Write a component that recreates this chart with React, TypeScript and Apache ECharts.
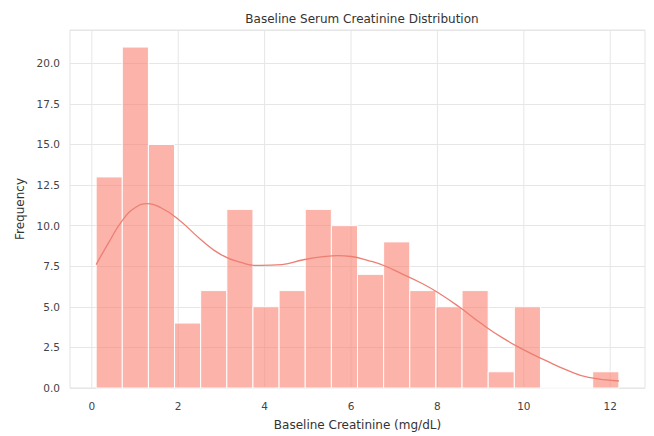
import React, { useEffect, useRef } from "react";
import * as echarts from "echarts";

const binEdges = [0.1, 0.705, 1.31, 1.915, 2.52, 3.125, 3.73, 4.335, 4.94, 5.545, 6.15, 6.755, 7.36, 7.965, 8.57, 9.175, 9.78, 10.385, 10.99, 11.595, 12.2];
const counts = [13, 21, 15, 4, 6, 11, 5, 6, 11, 10, 7, 9, 6, 5, 6, 1, 5, 0, 0, 1];
const kdeX = [0.1, 0.4, 0.7, 1.0, 1.3, 1.6, 2.0, 2.5, 3.0, 3.5, 3.9, 4.4, 4.9, 5.4, 5.7, 6.0, 6.4, 6.8, 7.2, 7.6, 8.0, 8.5, 9.0, 9.5, 10.0, 10.5, 11.0, 11.5, 12.2];
const kdeY = [7.6, 9.0, 10.3, 11.1, 11.35, 11.1, 10.4, 9.2, 8.2, 7.7, 7.55, 7.6, 7.9, 8.1, 8.15, 8.1, 7.85, 7.5, 7.0, 6.5, 5.9, 5.0, 4.0, 3.1, 2.35, 1.7, 1.1, 0.65, 0.43];
const xTicks = [0, 2, 4, 6, 8, 10, 12];
const X_MIN = -0.505;
const X_MAX = 12.805;
const Y_MAX = 22.05;

const FONT = "DejaVu Sans";

export default function App() {
  const ref = useRef<HTMLDivElement>(null);
  useEffect(() => {
    if (!ref.current) return;
    const chart = echarts.init(ref.current, null, { renderer: "svg" });
    const barData = counts.map((c, i) => [binEdges[i], binEdges[i + 1], c]);
    const kdeData = kdeX.map((x, i) => [x, kdeY[i]]);
    chart.setOption({
      animation: false,
      backgroundColor: "#ffffff",
      title: {
        text: "Baseline Serum Creatinine Distribution",
        left: 357,
        textAlign: "center",
        top: 8,
        textStyle: { fontFamily: FONT, fontSize: 12, fontWeight: "normal", color: "#333333" },
      },
      grid: {
        left: 70,
        right: 9,
        top: 30,
        bottom: 46,
        show: true,
        borderColor: "#e3e3e3",
        borderWidth: 1,
        backgroundColor: "#ffffff",
      },
      xAxis: {
        type: "value",
        min: X_MIN,
        max: X_MAX,
        name: "Baseline Creatinine (mg/dL)",
        nameLocation: "middle",
        nameGap: 31,
        nameTextStyle: { fontFamily: FONT, fontSize: 12, color: "#333333" },
        axisLine: { show: false },
        axisTick: { show: false },
        splitLine: { show: false },
        axisLabel: {
          customValues: xTicks,
          margin: 12,
          fontFamily: FONT,
          fontSize: 10.5,
          color: "#444444",
          formatter: (v: number) => String(v),
        },
      },
      yAxis: {
        type: "value",
        min: 0,
        max: Y_MAX,
        interval: 2.5,
        name: "Frequency",
        nameLocation: "middle",
        nameGap: 42,
        nameTextStyle: { fontFamily: FONT, fontSize: 12, color: "#333333" },
        axisLine: { show: false },
        axisTick: { show: false },
        splitLine: { show: true, lineStyle: { color: "#e6e6e6", width: 1 } },
        axisLabel: {
          margin: 10,
          fontFamily: FONT,
          fontSize: 10.5,
          color: "#444444",
          formatter: (v: number) =>
            Math.abs(v / 2.5 - Math.round(v / 2.5)) < 1e-6 ? v.toFixed(1) : "",
        },
      },
      series: [
        {
          type: "custom",
          name: "xgrid",
          z: 1,
          silent: true,
          data: xTicks.map((v) => [v]),
          encode: { x: 0 },
          renderItem: (params: any, api: any) => {
            const v = api.value(0);
            const a = api.coord([v, 0]);
            const b = api.coord([v, Y_MAX]);
            return {
              type: "line",
              shape: { x1: a[0], y1: a[1], x2: b[0], y2: b[1] },
              style: { stroke: "#e6e6e6", lineWidth: 1 },
            };
          },
        },
        {
          type: "custom",
          name: "hist",
          z: 2,
          data: barData,
          encode: { x: [0, 1], y: 2 },
          renderItem: (params: any, api: any) => {
            const x0 = api.value(0);
            const x1 = api.value(1);
            const h = api.value(2);
            const p0 = api.coord([x0, 0]);
            const p1 = api.coord([x1, h]);
            return {
              type: "rect",
              shape: { x: p0[0], y: p1[1], width: p1[0] - p0[0], height: p0[1] - p1[1] },
              style: { fill: "rgba(250,128,114,0.6)", stroke: "#ffffff", lineWidth: 1 },
            };
          },
        },
        {
          type: "line",
          name: "kde",
          z: 3,
          data: kdeData,
          smooth: true,
          showSymbol: false,
          lineStyle: { color: "#ec7f73", width: 1.3 },
        },
      ],
    });
    return () => chart.dispose();
  }, []);
  return <div ref={ref} style={{ width: 654, height: 436, position: "absolute", left: 0, top: 0 }} />;
}
